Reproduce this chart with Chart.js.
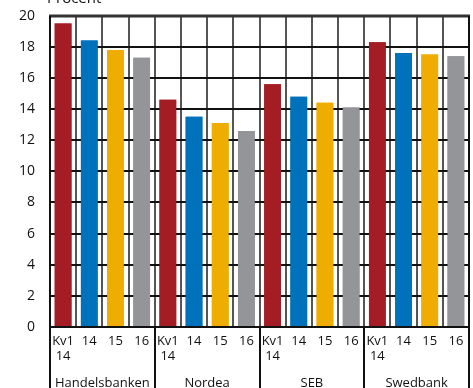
<!DOCTYPE html>
<html>
<head>
<meta charset="utf-8">
<script src="https://cdn.jsdelivr.net/npm/chart.js@4/dist/chart.umd.min.js"></script>
<style>
  html, body { margin: 0; padding: 0; background: #fff; }
  #wrap { width: 473px; height: 388px; position: relative; }
</style>
</head>
<body>
<div id="wrap"><canvas id="c"></canvas></div>
<script>
// Banks and the four periods shown for each
const banks = ['Handelsbanken', 'Nordea', 'SEB', 'Swedbank'];
const periodLabels = [['Kv1', '14'], '14', '15', '16'];

// Values in percent, per bank, in period order
const handelsbanken = [19.5, 18.4, 17.8, 17.3];
const nordea        = [14.6, 13.5, 13.1, 12.6];
const seb           = [15.6, 14.8, 14.4, 14.1];
const swedbank      = [18.3, 17.6, 17.5, 17.4];

const yTicks = [0, 2, 4, 6, 8, 10, 12, 14, 16, 18, 20];
const periodColors = ['#A51D24', '#0072BB', '#EEAD00', '#939598'];

// Flatten into one bar per bank/period
const series = [handelsbanken, nordea, seb, swedbank];
const labels = [], values = [], colors = [];
series.forEach(vals => vals.forEach((v, p) => {
  labels.push(periodLabels[p]);
  values.push(v);
  colors.push(periodColors[p]);
}));

const FONT = '"Open Sans", "Noto Sans", sans-serif';

// Boundary pixel on the left side of category i (or right edge after the last)
function edgeX(x, i) {
  const step = x.getPixelForValue(1) - x.getPixelForValue(0);
  return i < labels.length ? x.getPixelForValue(i) - step / 2
                           : x.getPixelForValue(labels.length - 1) + step / 2;
}

// Solid rules drawn as thin rectangles
function hRule(ctx, x1, x2, y, w) { ctx.fillRect(x1, y - w / 2, x2 - x1, w); }
function vRule(ctx, x, y1, y2, w) { ctx.fillRect(x - w / 2, y1, w, y2 - y1); }

const framePlugin = {
  id: 'bankFrame',
  afterDraw(chart) {
    const { ctx, chartArea: a, scales: { x, y } } = chart;
    const H = chart.height;
    const per = periodLabels.length;
    const top = Math.round(y.getPixelForValue(yTicks[yTicks.length - 1]));
    const bottom = Math.round(y.getPixelForValue(0));
    const left = Math.round(a.left), right = Math.round(a.right);
    ctx.save();

    // vertical rules between bars
    ctx.fillStyle = '#555';
    for (let i = 1; i < labels.length; i++) {
      vRule(ctx, Math.round(edgeX(x, i)), top, bottom, 2);
    }
    // horizontal rules at each tick, heavier at the top
    yTicks.forEach(v => {
      const py = Math.round(y.getPixelForValue(v));
      if (v === yTicks[yTicks.length - 1]) {
        ctx.fillStyle = '#333';
        hRule(ctx, left - 1, right + 1, py, 3);
      } else {
        ctx.fillStyle = '#111';
        hRule(ctx, left, right, py, 2);
      }
    });

    // bars on top of the grid
    chart.getDatasetMeta(0).data.forEach(el => el.draw(ctx));

    // axis line, left/right frame and bank separators through the label band
    ctx.fillStyle = '#111';
    hRule(ctx, left - 1, right + 1, bottom, 2);
    for (let g = 0; g <= banks.length; g++) {
      const px = Math.round(edgeX(x, g * per));
      const fromY = (g === 0 || g === banks.length) ? top : bottom;
      vRule(ctx, px, fromY, H, 2);
    }

    // bank names and unit caption
    ctx.font = '13px ' + FONT;
    ctx.textAlign = 'center';
    ctx.textBaseline = 'alphabetic';
    banks.forEach((b, g) => {
      const cx = (x.getPixelForValue(g * per) + x.getPixelForValue(g * per + per - 1)) / 2;
      ctx.fillText(b, cx, H - 1);
    });
    ctx.textAlign = 'left';
    ctx.font = '15px ' + FONT;
    ctx.fillText('Procent', a.left - 3, 3);
    ctx.restore();
  }
};

new Chart(document.getElementById('c'), {
  type: 'bar',
  data: {
    labels: labels,
    datasets: [{
      data: values,
      backgroundColor: colors,
      borderWidth: 0,
      barPercentage: 0.64,
      categoryPercentage: 1.0,
      clip: false
    }]
  },
  options: {
    responsive: true,
    maintainAspectRatio: false,
    animation: false,
    layout: { padding: { top: 0, right: 4, left: 0, bottom: 0 } },
    plugins: { legend: { display: false }, tooltip: { enabled: false } },
    scales: {
      x: {
        grid: { display: false, drawTicks: false, offset: true },
        border: { display: false },
        ticks: { font: { family: FONT, size: 13 }, color: '#111', padding: 6, maxRotation: 0, minRotation: 0, autoSkip: false },
        afterFit(s) { s.height = 61; }
      },
      y: {
        min: 0, max: 20,
        afterBuildTicks(s) { s.ticks = yTicks.map(v => ({ value: v })); },
        grid: { display: false, drawTicks: false },
        border: { display: false },
        ticks: { font: { family: FONT, size: 14, lineHeight: 0.1 }, color: '#111', padding: 15 },
        afterFit(s) { s.width = 50; }
      }
    }
  },
  plugins: [framePlugin]
});
</script>
</body>
</html>
